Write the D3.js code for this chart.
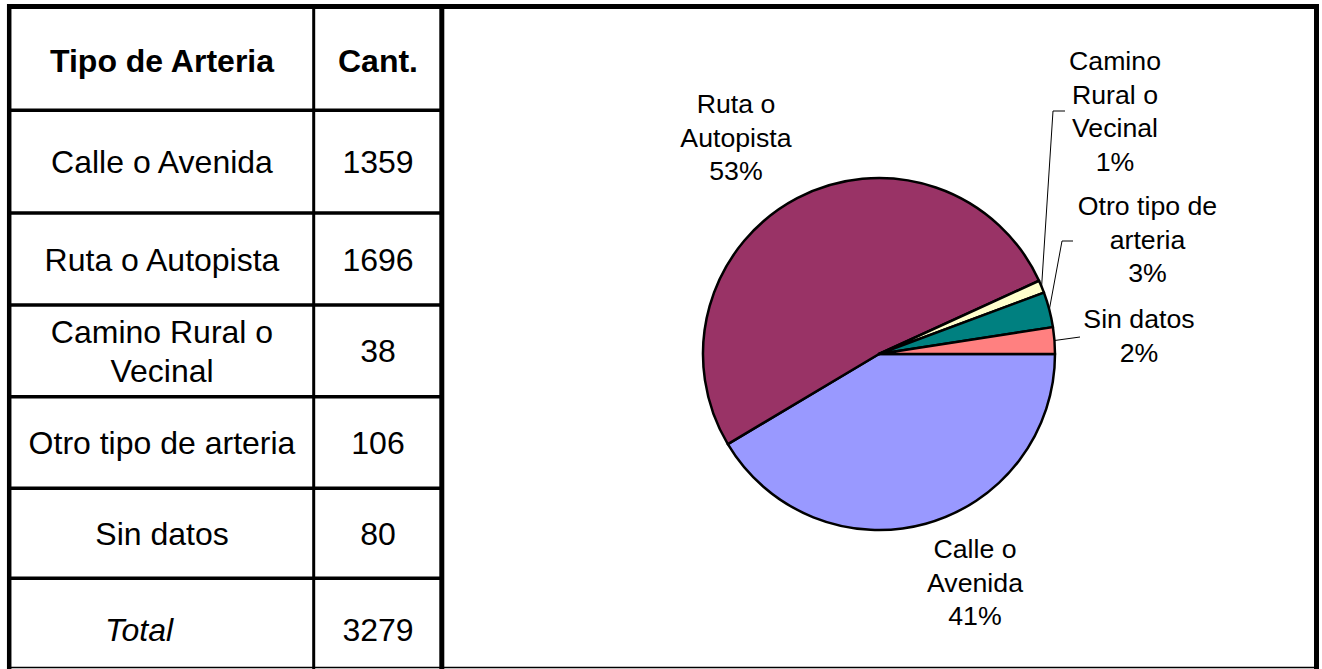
<!DOCTYPE html>
<html>
<head>
<meta charset="utf-8">
<script src="https://cdn.jsdelivr.net/npm/d3@7"></script>
<style>
  html, body { margin: 0; padding: 0; background: #fff; }
  svg { display: block; }
  text { font-family: "Liberation Sans", Arial, sans-serif; fill: #000; }
</style>
</head>
<body>
<svg id="chart" width="1322" height="669"></svg>
<script>
// ---------- data ----------
const headers = ["Tipo de Arteria", "Cant."];
const categories = ["Calle o Avenida", "Ruta o Autopista", "Camino Rural o Vecinal", "Otro tipo de arteria", "Sin datos"];
const tableLabelLines = [["Calle o Avenida"], ["Ruta o Autopista"], ["Camino Rural o", "Vecinal"], ["Otro tipo de arteria"], ["Sin datos"]];
const counts = [1359, 1696, 38, 106, 80];
const totalLabel = "Total";
const totalCount = 3279;
const pieLabelLines = [["Calle o", "Avenida"], ["Ruta o", "Autopista"], ["Camino", "Rural o", "Vecinal"], ["Otro tipo de", "arteria"], ["Sin datos"]];
const pctLabels = ["41%", "53%", "1%", "3%", "2%"];

// ---------- styles / layout ----------
const sliceColors = ["#9999FF", "#993366", "#FFFFCC", "#008080", "#FF8080"];
const svg = d3.select("#chart");

// table geometry
const col1Center = 162, col2Center = 378;
const rowEdges = [9, 110.3, 213, 305, 396.7, 488.3, 578.3, 680];
const tableFont = 32;

const g = svg.append("g");

// header
g.append("text").attr("x", col1Center).attr("y", 72).attr("text-anchor", "middle")
  .attr("font-size", tableFont).attr("font-weight", "bold").text(headers[0]);
g.append("text").attr("x", col2Center).attr("y", 72).attr("text-anchor", "middle")
  .attr("font-size", tableFont).attr("font-weight", "bold").text(headers[1]);

// rows
categories.forEach((c, i) => {
  const yc = (rowEdges[i + 1] + rowEdges[i + 2]) / 2;
  const lines = tableLabelLines[i];
  const lh = 39;
  const first = yc + 11.5 - (lines.length - 1) * lh / 2;
  const t = g.append("text").attr("text-anchor", "middle").attr("font-size", tableFont);
  lines.forEach((l, j) => t.append("tspan").attr("x", col1Center).attr("y", first + j * lh).text(l));
  g.append("text").attr("x", col2Center).attr("y", yc + 11.5).attr("text-anchor", "middle")
    .attr("font-size", tableFont).text(counts[i]);
});
// total row
g.append("text").attr("x", 139).attr("y", 641).attr("text-anchor", "middle")
  .attr("font-size", tableFont).attr("font-style", "italic").text(totalLabel);
g.append("text").attr("x", col2Center).attr("y", 641).attr("text-anchor", "middle")
  .attr("font-size", tableFont).text(totalCount);

// table grid lines
rowEdges.slice(1, 7).forEach(y => {
  g.append("line").attr("x1", 9).attr("x2", 442).attr("y1", y).attr("y2", y)
    .attr("stroke", "#000").attr("stroke-width", 3.5);
});
g.append("line").attr("x1", 313.7).attr("x2", 313.7).attr("y1", 6).attr("y2", 669)
  .attr("stroke", "#000").attr("stroke-width", 3);

// ---------- pie ----------
const cx = 879, cy = 354, r = 176;
const pie = d3.pie().sort(null).value(d => d)
  .startAngle(Math.PI / 2).endAngle(Math.PI / 2 + 2 * Math.PI);
const arcs = pie(counts);
const arc = d3.arc().innerRadius(0).outerRadius(r);
const pg = svg.append("g").attr("transform", `translate(${cx},${cy})`);
pg.selectAll("path").data(arcs).enter().append("path")
  .attr("d", arc)
  .attr("fill", (d, i) => sliceColors[i])
  .attr("stroke", "#000").attr("stroke-width", 2.5).attr("stroke-linejoin", "round");

// pie labels
const labelFont = 26.7, labelLH = 33.5;
const labelPos = [
  { x: 975, y: 558 },
  { x: 736, y: 113 },
  { x: 1115, y: 70 },
  { x: 1147.5, y: 215 },
  { x: 1139, y: 328 }
];
arcs.forEach((d, i) => {
  const lines = pieLabelLines[i].concat([pctLabels[i]]);
  const t = svg.append("text").attr("text-anchor", "middle").attr("font-size", labelFont);
  lines.forEach((l, j) => t.append("tspan").attr("x", labelPos[i].x).attr("y", labelPos[i].y + j * labelLH).text(l));
});

// leader lines
const leaders = [
  null, null,
  [[1053, 111], [1065, 111]],
  [[1062, 241], [1073, 241]],
  [[1080, 337]]
];
arcs.forEach((d, i) => {
  if (!leaders[i]) return;
  const a = (d.startAngle + d.endAngle) / 2;
  const p0 = [cx + r * Math.sin(a), cy - r * Math.cos(a)];
  const pts = [p0].concat(leaders[i]);
  svg.append("path").attr("d", d3.line()(pts))
    .attr("fill", "none").attr("stroke", "#000").attr("stroke-width", 1);
});

// ---------- outer frame ----------
const frame = svg.append("g").attr("stroke", "#000").attr("fill", "none");
frame.append("line").attr("x1", 7).attr("x2", 1319).attr("y1", 6.5).attr("y2", 6.5).attr("stroke-width", 5);
frame.append("line").attr("x1", 9.2).attr("x2", 9.2).attr("y1", 4).attr("y2", 669).attr("stroke-width", 4.5);
frame.append("line").attr("x1", 441.8).attr("x2", 441.8).attr("y1", 4).attr("y2", 669).attr("stroke-width", 5);
frame.append("line").attr("x1", 1316.5).attr("x2", 1316.5).attr("y1", 4).attr("y2", 669).attr("stroke-width", 5);
frame.append("line").attr("x1", 7).attr("x2", 1319).attr("y1", 667.5).attr("y2", 667.5).attr("stroke-width", 1.5);
</script>
</body>
</html>
